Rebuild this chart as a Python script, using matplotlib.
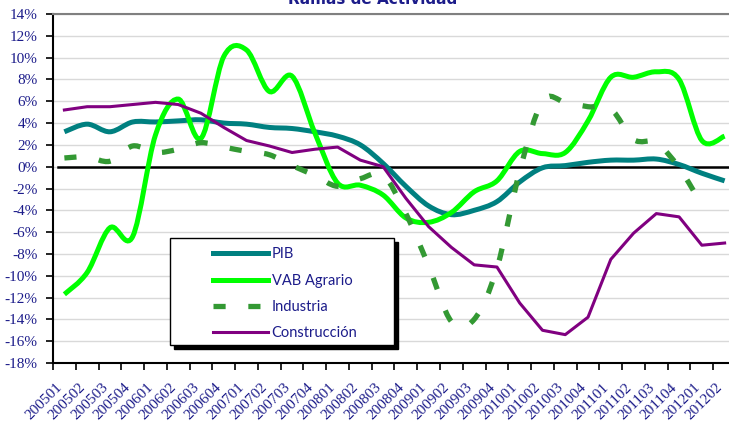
import numpy as np
import matplotlib
matplotlib.use("Agg")
import matplotlib.pyplot as plt
import matplotlib.transforms as mtransforms
from matplotlib.path import Path
from matplotlib.patches import PathPatch, Rectangle
from matplotlib.lines import Line2D

# quarters 200501 .. 201202
periodos = ['200501', '200502', '200503', '200504', '200601', '200602', '200603', '200604',
            '200701', '200702', '200703', '200704', '200801', '200802', '200803', '200804',
            '200901', '200902', '200903', '200904', '201001', '201002', '201003', '201004',
            '201101', '201102', '201103', '201104', '201201', '201202']

pib = [3.2, 3.9, 3.2, 4.1, 4.1, 4.2, 4.3, 4.0, 3.9, 3.6, 3.5, 3.2, 2.8, 2.0, 0.3,
       -1.8, -3.6, -4.4, -4.0, -3.2, -1.4, -0.1, 0.1, 0.4, 0.6, 0.6, 0.7, 0.2, -0.6, -1.3]

vab_agrario = [-11.7, -9.7, -5.6, -6.4, 2.9, 6.2, 2.6, 10.1, 10.7, 6.9, 8.3, 3.1, -1.5, -1.7, -2.6,
               -4.7, -5.1, -4.2, -2.3, -1.3, 1.4, 1.2, 1.3, 4.2, 8.2, 8.2, 8.7, 8.0, 2.4, 2.8]

# no dato para 201202
industria = [0.8, 0.9, 0.5, 1.9, 1.3, 1.6, 2.2, 1.8, 1.4, 1.1, 0.1, -0.8, -1.8, -1.1, -0.8,
             -4.3, -9.1, -14.2, -14.0, -9.3, -0.4, 6.0, 5.9, 5.5, 5.3, 2.5, 2.2, -0.1, -3.5]

construccion = [5.2, 5.5, 5.5, 5.7, 5.9, 5.7, 4.9, 3.6, 2.4, 1.9, 1.3, 1.6, 1.8, 0.6, 0.0,
                -2.9, -5.5, -7.4, -9.0, -9.2, -12.5, -15.0, -15.4, -13.8, -8.5, -6.1, -4.3, -4.6, -7.2, -7.0]

navy = '#1c1c8a'


def smooth_path(y):
    # excel style smoothed line: catmull-rom segments as cubic bezier
    pts = np.column_stack([np.arange(len(y)), np.asarray(y, float)])
    verts = [pts[0]]
    codes = [Path.MOVETO]
    n = len(pts)
    for i in range(n - 1):
        p0 = pts[i - 1] if i > 0 else pts[i]
        p1 = pts[i]
        p2 = pts[i + 1]
        p3 = pts[i + 2] if i + 2 < n else pts[i + 1]
        verts += [p1 + (p2 - p0) / 6.0, p2 - (p3 - p1) / 6.0, p2]
        codes += [Path.CURVE4] * 3
    return Path(verts, codes)


W, H = 729, 424
fig = plt.figure(figsize=(W / 100, H / 100), dpi=100)
# plot area runs a little past the right edge of the picture
ax_l, ax_r, ax_t, ax_b = 53, 736, 14, 363
ax = fig.add_axes([ax_l / W, 1 - ax_b / H, (ax_r - ax_l) / W, (ax_b - ax_t) / H])

x = np.arange(len(periodos))
ax.set_xlim(-0.5, len(periodos) - 0.5)
ax.set_ylim(-18, 14)

for v in range(-18, 15, 2):
    ax.axhline(v, color='#d9d9d9', lw=1.0, zorder=0)
ax.axhline(0, xmin=5 / (ax_r - ax_l), color='black', lw=1.8, zorder=1)

ax.add_patch(PathPatch(smooth_path(pib), fill=False, edgecolor='#008080', lw=3.6,
                       capstyle='butt', zorder=3))
ax.add_patch(PathPatch(smooth_path(vab_agrario), fill=False, edgecolor='#00ff00', lw=3.6,
                       capstyle='butt', zorder=3))
ax.add_patch(PathPatch(smooth_path(industria), fill=False, edgecolor='#339933', lw=3.8,
                       linestyle=(0, (2.3, 4.3)), capstyle='butt', zorder=3))
ax.plot(x, construccion, color='#800080', lw=2.2, zorder=4)

# spines
ax.spines['right'].set_visible(False)
ax.spines['top'].set_color('#808080')
ax.spines['top'].set_linewidth(1.5)
ax.spines['left'].set_linewidth(1.5)
ax.spines['bottom'].set_linewidth(1.5)

ax.set_yticks(range(-18, 15, 2))
ax.set_yticklabels(['%d%%' % v for v in range(-18, 15, 2)])
ax.tick_params(axis='y', length=5, width=1.2, pad=6, labelsize=11, labelcolor=navy)
for t in ax.get_yticklabels():
    t.set_family('Liberation Serif')

ax.set_xticks(x)
ax.set_xticks(np.arange(-0.5, len(periodos), 1.0), minor=True)
ax.set_xticklabels(periodos, rotation=45, ha='right', va='center', rotation_mode='anchor')
ax.tick_params(axis='x', which='major', length=0, pad=16, labelsize=11, labelcolor=navy)
ax.tick_params(axis='x', which='minor', length=5, width=1.2)
shift = mtransforms.ScaledTranslation(-4 / 100, 0, fig.dpi_scale_trans)
for t in ax.get_xticklabels():
    t.set_family('Liberation Serif')
    t.set_transform(t.get_transform() + shift)

# legend box with black shadow
def px_to_ax(px, py):
    return (px - ax_l) / (ax_r - ax_l), (ax_b - py) / (ax_b - ax_t)

bx0, by0 = px_to_ax(170, 345)
bx1, by1 = px_to_ax(394, 238)
sx0, sy0 = px_to_ax(174, 349)
ax.add_patch(Rectangle((sx0, sy0), bx1 - bx0, by1 - by0, transform=ax.transAxes,
                       facecolor='black', edgecolor='black', zorder=5))
ax.add_patch(Rectangle((bx0, by0), bx1 - bx0, by1 - by0, transform=ax.transAxes,
                       facecolor='white', edgecolor='black', lw=1.0, zorder=6))

handles = [
    Line2D([], [], color='#008080', lw=3.6),
    Line2D([], [], color='#00ff00', lw=3.6),
    Line2D([], [], color='#339933', lw=3.8, linestyle=(0, (2.3, 4.3)), dash_capstyle='butt'),
    Line2D([], [], color='#800080', lw=2.2),
]
labels = ['PIB', 'VAB Agrario', 'Industria', 'Construcción']
lx, ly = px_to_ax(206, 240)
leg = ax.legend(handles, labels, loc='upper left', bbox_to_anchor=(lx, ly), frameon=False,
                borderpad=0, handlelength=3.75, handletextpad=0.25, labelspacing=0.85,
                prop={'family': 'Lato', 'size': 10.5})
leg.set_zorder(7)
for t in leg.get_texts():
    t.set_color(navy)

fig.text(373 / W, 1 - 4 / H, 'Ramas de Actividad', ha='center', va='baseline',
         fontsize=11, fontweight='bold', color=navy, family='DejaVu Sans')

fig.savefig('out.png', dpi=100)
